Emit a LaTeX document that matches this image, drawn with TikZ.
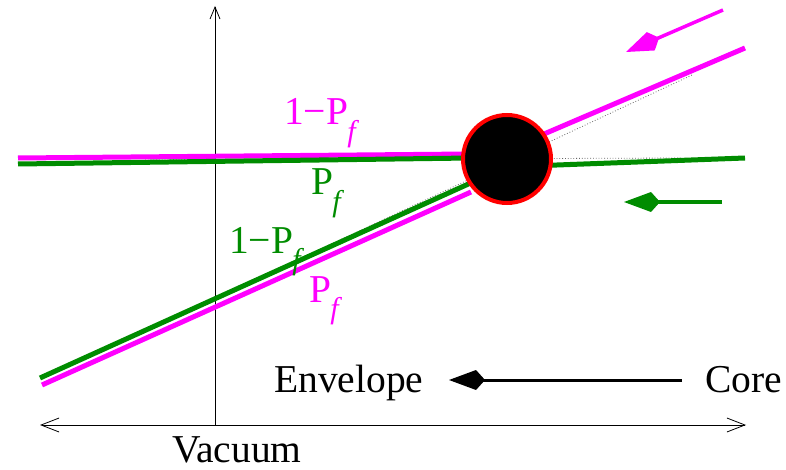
\documentclass[tikz,border=0pt]{standalone}
\usepackage{fontspec}
\setmainfont{Liberation Serif}
\usetikzlibrary{arrows.meta}

\definecolor{mag}{RGB}{255,0,255}
\definecolor{grn}{RGB}{0,140,0}
\newcommand{\pfsub}{\kern-0.02em\raisebox{-0.42em}{\fontsize{30}{30}\selectfont\itshape f}}

\begin{document}
\begin{tikzpicture}[
  x=1pt, y=1pt, font=\fontsize{39.5}{41}\selectfont,
  axis/.style ={draw,line width=0.8pt},
  beam/.style ={draw,line width=5pt},
  guide/.style={draw,gray!80!black,dotted,line width=0.8pt},
  flow/.style ={draw,-{Kite[length=36pt,width=20pt,inset=9pt]}},
  lab/.style  ={inner sep=0,anchor=base west},
  blob/.style ={circle,draw=red,fill=black,line width=4pt,minimum size=88pt,inner sep=0},
]
\useasboundingbox (0,0) rectangle (786,-470);

% ------------------------------------------------------------------ axes
\coordinate (ybot) at (215,-425);
\coordinate (ytop) at (215,-6);
\coordinate (xl) at (40,-425);
\coordinate (xr) at (746,-425);
\draw[axis,-{Straight Barb[length=12pt,width=10pt]}] (ybot) -- (ytop);
\draw[axis,{Straight Barb[length=18pt,width=14pt]}-{Straight Barb[length=18pt,width=14pt]}] (xl) -- (xr);
\node[lab] (vac) at (172,-462) {Vacuum};

% ------------------------------------------------------------------ beams
\coordinate (c) at (507,-159);
\coordinate (m0) at (18,-158);   \coordinate (m1) at (470,-154);
\coordinate (g0) at (18,-164);   \coordinate (g1) at (470,-158);
\coordinate (m2) at (530,-140);  \coordinate (m3) at (745,-48);
\coordinate (g2) at (530,-166);  \coordinate (g3) at (745,-158);
\coordinate (g4) at (40,-378);   \coordinate (g5) at (475,-181);
\coordinate (m4) at (42,-385);   \coordinate (m5) at (471,-192);
% dotted guide lines
\coordinate (d0) at (145,-160);  \coordinate (d1) at (682,-158);
\coordinate (d2) at (212,-300);  \coordinate (d3) at (692,-75);
\draw[guide] (d0) -- (d1);
\draw[guide] (d2) -- (d3);

\draw[beam,mag] (m0) -- (m1);
\draw[beam,grn] (g0) -- (g1);
\draw[beam,mag] (m2) -- (m3);
\draw[beam,grn] (g2) -- (g3);
\draw[beam,grn] (g4) -- (g5);
\draw[beam,mag] (m4) -- (m5);

\node[blob] (core) at (c) {};

% labels on the beams
\node[lab,mag] (l1) at (284,-125) {1−P\pfsub};
\node[lab,grn] (l2) at (311,-195) {P\pfsub};
\node[lab,grn] (l3) at (229,-253) {1−P\pfsub};
\node[lab,mag] (l4) at (309,-302) {P\pfsub};

% ------------------------------------------------------------------ direction arrows
\coordinate (a0) at (723,-10);  \coordinate (a1) at (626,-52);
\coordinate (b0) at (722,-202); \coordinate (b1) at (624,-202);
\draw[flow,mag,line width=3.5pt] (a0) -- (a1);
\draw[flow,grn,line width=3.5pt] (b0) -- (b1);

\node[lab] (env) at (274,-392) {Envelope};
\node[lab] (cor) at (705,-392) {Core};
\coordinate (k0) at (682,-380); \coordinate (k1) at (449,-380);
\draw[flow,line width=3pt] (k0) -- (k1);
\end{tikzpicture}
\end{document}
